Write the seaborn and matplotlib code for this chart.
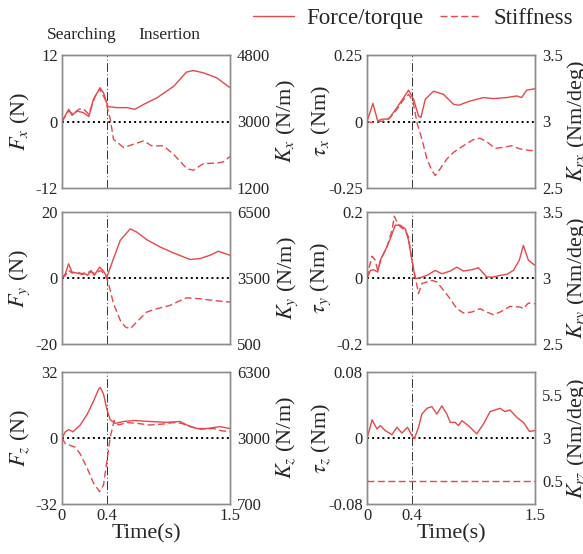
import numpy as np
import matplotlib
matplotlib.use("Agg")
import matplotlib.pyplot as plt
from matplotlib.lines import Line2D
import seaborn as sns

sns.set_style("white")
plt.rcParams["font.family"] = ["Liberation Serif", "DejaVu Serif"]
plt.rcParams["mathtext.fontset"] = "stix"

RED = "#e8474a"
GREY = "#8c8c8c"

# ---- data ----
t_fx = [0, 0.06, 0.09, 0.13, 0.19, 0.24, 0.28, 0.34, 0.37, 0.41, 0.49, 0.58, 0.65, 0.73, 0.85, 1.0, 1.11, 1.17, 1.26, 1.38, 1.5]
fx = [0, 2.2, 1.1, 1.9, 1.6, 0.9, 4.0, 6.1, 5.2, 2.7, 2.5, 2.5, 2.2, 3.1, 4.3, 6.4, 8.9, 9.2, 8.8, 7.9, 6.1]
t_kx = [0, 0.059, 0.104, 0.149, 0.193, 0.238, 0.297, 0.336, 0.386, 0.431, 0.46, 0.55, 0.639, 0.728, 0.802, 0.906, 0.995, 1.114, 1.173, 1.262, 1.381, 1.44, 1.5]
kx = [3000, 3285, 3195, 3330, 3345, 3195, 3690, 3885, 3600, 3060, 2520, 2295, 2385, 2475, 2340, 2340, 2115, 1725, 1680, 1860, 1875, 1905, 2055]

t_tx = [0, 0.053, 0.095, 0.134, 0.193, 0.267, 0.327, 0.371, 0.416, 0.46, 0.481, 0.52, 0.594, 0.683, 0.772, 0.817, 0.921, 1.04, 1.129, 1.248, 1.337, 1.381, 1.426, 1.5]
tx = [0, 0.068, 0.002, 0.009, 0.009, 0.052, 0.09, 0.118, 0.083, 0.021, 0.015, 0.083, 0.114, 0.102, 0.065, 0.061, 0.077, 0.09, 0.086, 0.09, 0.096, 0.09, 0.118, 0.123]
t_krx = [0, 0.045, 0.089, 0.149, 0.208, 0.267, 0.327, 0.371, 0.41, 0.446, 0.49, 0.535, 0.579, 0.609, 0.653, 0.713, 0.772, 0.861, 0.95, 1.01, 1.069, 1.144, 1.218, 1.292, 1.366, 1.455, 1.5]
krx = [3.0, 2.992, 2.998, 3.004, 3.03, 3.092, 3.166, 3.204, 3.154, 2.992, 2.868, 2.72, 2.632, 2.594, 2.644, 2.718, 2.768, 2.818, 2.864, 2.874, 2.848, 2.798, 2.806, 2.818, 2.794, 2.782, 2.782]

t_fy = [0, 0.03, 0.059, 0.089, 0.134, 0.178, 0.208, 0.229, 0.258, 0.288, 0.336, 0.371, 0.401, 0.46, 0.52, 0.609, 0.668, 0.757, 0.876, 0.995, 1.144, 1.233, 1.322, 1.396, 1.5]
fy = [0, 1.3, 4.3, 1.8, 1.5, 1.1, 1.3, 0.8, 2.3, 0.8, 3.3, 2.1, 0.3, 5.9, 11.4, 14.9, 13.9, 11.6, 9.4, 7.6, 5.6, 5.9, 6.9, 8.1, 6.9]
t_ky = [0, 0.03, 0.059, 0.089, 0.134, 0.178, 0.223, 0.258, 0.297, 0.342, 0.386, 0.416, 0.46, 0.52, 0.564, 0.609, 0.668, 0.757, 0.847, 0.965, 1.025, 1.114, 1.233, 1.351, 1.5]
ky = [3500, 3620, 3845, 3725, 3770, 3695, 3770, 3770, 3695, 3845, 3665, 3245, 2330, 1580, 1280, 1190, 1505, 1955, 2105, 2255, 2405, 2600, 2555, 2480, 2405]

t_ty = [0, 0.03, 0.059, 0.095, 0.119, 0.163, 0.208, 0.252, 0.297, 0.342, 0.371, 0.401, 0.431, 0.475, 0.535, 0.609, 0.668, 0.743, 0.802, 0.861, 0.936, 0.995, 1.069, 1.129, 1.188, 1.248, 1.307, 1.36, 1.396, 1.441, 1.5]
ty = [0, 0.023, 0.025, 0.018, 0.054, 0.084, 0.119, 0.16, 0.16, 0.149, 0.114, 0.054, -0.002, 0.001, 0.008, 0.023, 0.013, 0.021, 0.033, 0.021, 0.025, 0.031, 0.003, 0.003, 0.008, 0.011, 0.023, 0.054, 0.099, 0.054, 0.038]
t_kry = [0, 0.024, 0.045, 0.074, 0.095, 0.134, 0.178, 0.223, 0.244, 0.267, 0.297, 0.342, 0.371, 0.401, 0.431, 0.46, 0.49, 0.535, 0.579, 0.624, 0.683, 0.743, 0.802, 0.861, 0.936, 1.01, 1.069, 1.129, 1.188, 1.277, 1.366, 1.396, 1.441, 1.5]
kry = [3.0, 3.095, 3.165, 3.135, 3.058, 3.16, 3.235, 3.36, 3.468, 3.425, 3.388, 3.36, 3.31, 3.135, 3.008, 2.882, 2.958, 2.97, 2.982, 2.97, 2.908, 2.842, 2.768, 2.735, 2.742, 2.768, 2.742, 2.722, 2.742, 2.785, 2.78, 2.768, 2.81, 2.805]

t_fz = [0, 0.03, 0.059, 0.098, 0.163, 0.223, 0.282, 0.327, 0.342, 0.371, 0.401, 0.431, 0.475, 0.55, 0.639, 0.787, 0.936, 1.054, 1.114, 1.203, 1.292, 1.411, 1.5]
fz = [0, 3.0, 4.1, 3.0, 6.3, 11.3, 17.9, 23.7, 24.5, 21.2, 13.8, 8.8, 7.1, 8.0, 8.5, 8.0, 7.6, 8.0, 6.3, 4.6, 4.6, 5.5, 4.6]
t_kz = [0, 0.03, 0.074, 0.119, 0.163, 0.223, 0.282, 0.336, 0.371, 0.401, 0.431, 0.466, 0.505, 0.579, 0.668, 0.787, 0.906, 0.995, 1.069, 1.144, 1.233, 1.351, 1.426, 1.5]
kz = [3000, 2799, 2741, 2677, 2439, 1965, 1426, 1131, 1368, 2202, 3052, 3877, 3650, 3773, 3732, 3650, 3701, 3773, 3732, 3567, 3443, 3474, 3361, 3309]

t_tz = [0, 0.024, 0.045, 0.089, 0.119, 0.163, 0.223, 0.267, 0.312, 0.362, 0.401, 0.422, 0.46, 0.49, 0.535, 0.579, 0.624, 0.668, 0.713, 0.743, 0.787, 0.817, 0.847, 0.906, 0.98, 1.04, 1.099, 1.144, 1.188, 1.233, 1.277, 1.337, 1.396, 1.45, 1.5]
tz = [0, 0.011, 0.022, 0.011, 0.015, 0.009, 0.004, 0.013, 0.006, 0.013, 0.003, -0.001, 0.013, 0.029, 0.036, 0.038, 0.029, 0.039, 0.029, 0.019, 0.019, 0.015, 0.021, 0.015, 0.005, 0.017, 0.032, 0.034, 0.036, 0.032, 0.034, 0.025, 0.019, 0.008, 0.009]
t_krz = [0, 1.5]
krz = [0.5, 0.5]

x_ticks = [0, 0.4, 1.5]
x_ticklabels = ["0", "0.4", "1.5"]
t_switch = 0.4


# piecewise scale so that 700 / 3000 / 6300 sit at bottom / middle / top
def kz_fwd(y):
    y = np.asarray(y, dtype=float)
    return np.where(y < 3000, (y - 3000) / 2300, (y - 3000) / 3300)


def kz_inv(v):
    v = np.asarray(v, dtype=float)
    return np.where(v < 0, 3000 + v * 2300, 3000 + v * 3300)


panels = [
    # (t_f, f, t_k, k, flim, fticks, flabels, klim, kticks, ylab, klab)
    (t_fx, fx, t_kx, kx, (-12, 12), [-12, 0, 12], ["-12", "0", "12"],
     (1200, 4800), [1200, 3000, 4800], r"$F_x$ (N)", r"$K_x$ (N/m)"),
    (t_tx, tx, t_krx, krx, (-0.25, 0.25), [-0.25, 0, 0.25], ["-0.25", "0", "0.25"],
     (2.5, 3.5), [2.5, 3, 3.5], r"$\tau_x$ (Nm)", r"$K_{rx}$ (Nm/deg)"),
    (t_fy, fy, t_ky, ky, (-20, 20), [-20, 0, 20], ["-20", "0", "20"],
     (500, 6500), [500, 3500, 6500], r"$F_y$ (N)", r"$K_y$ (N/m)"),
    (t_ty, ty, t_kry, kry, (-0.2, 0.2), [-0.2, 0, 0.2], ["-0.2", "0", "0.2"],
     (2.5, 3.5), [2.5, 3, 3.5], r"$\tau_y$ (Nm)", r"$K_{ry}$ (Nm/deg)"),
    (t_fz, fz, t_kz, kz, (-32, 32), [-32, 0, 32], ["-32", "0", "32"],
     (700, 6300), [700, 3000, 6300], r"$F_z$ (N)", r"$K_z$ (N/m)"),
    (t_tz, tz, t_krz, krz, (-0.08, 0.08), [-0.08, 0, 0.08], ["-0.08", "0", "0.08"],
     (-0.81, 6.81), [0.5, 3, 5.5], r"$\tau_z$ (Nm)", r"$K_{rz}$ (Nm/deg)"),
]

fig = plt.figure(figsize=(5.83, 5.54), dpi=100)
W, H = 583, 554
col_x = [62, 367]
row_y = [(55, 188), (212, 344), (372, 504)]
aw = 168

for i, p in enumerate(panels):
    (t_f, f, t_k, k, flim, fticks, flabels, klim, kticks, ylab, klab) = p
    r, c = divmod(i, 2)
    top, bot = row_y[r]
    ax = fig.add_axes([col_x[c] / W, 1 - bot / H, aw / W, (bot - top) / H])
    ax2 = ax.twinx()

    ax.axhline(0, color="black", linestyle=":", linewidth=1.4, zorder=1)
    ax.axvline(t_switch, color="#333333", linestyle=(0, (9, 2.5, 1, 2.5)), linewidth=0.7, zorder=1)
    sns.lineplot(x=t_f, y=f, ax=ax, color=RED, linewidth=1.0, zorder=3)
    sns.lineplot(x=t_k, y=k, ax=ax2, color=RED, linewidth=1.0, linestyle=(0, (5, 2.5)), zorder=3)

    ax.set_xlim(0, 1.5)
    ax.set_ylim(*flim)
    ax.set_yticks(fticks)
    ax.set_yticklabels(flabels)
    if i == 4:
        ax2.set_yscale("function", functions=(kz_fwd, kz_inv))
    ax2.set_ylim(*klim)
    ax2.set_yticks(kticks)
    ax2.set_yticklabels([f"{v:g}" for v in kticks])
    ax2.yaxis.set_minor_locator(matplotlib.ticker.NullLocator())

    ax.set_xticks(x_ticks)
    if r == 2:
        ax.set_xticklabels(x_ticklabels)
        ax.set_xlabel("Time(s)", fontsize=16, labelpad=0)
    else:
        ax.set_xticklabels([])
        ax.set_xlabel("")

    ax.tick_params(axis="both", length=0, labelsize=12, pad=3)
    ax2.tick_params(axis="y", length=0, labelsize=12, pad=5)

    ax.set_ylabel(ylab, fontsize=16)
    ax2.set_ylabel(klab, fontsize=16)
    if c == 0:
        ax.yaxis.set_label_coords(-0.18, 0.5)
        ax2.yaxis.set_label_coords(1.268, 0.5)
    else:
        ax.yaxis.set_label_coords(-0.205, 0.5)
        ax2.yaxis.set_label_coords(1.18, 0.5)

    for a in (ax, ax2):
        for s in a.spines.values():
            s.set_color(GREY)
            s.set_linewidth(1.0)

fig.text(82 / W, 1 - 35 / H, "Searching", fontsize=12.5, ha="center", va="center")
fig.text(169 / W, 1 - 35 / H, "Insertion", fontsize=12.5, ha="center", va="center")

handles = [
    Line2D([], [], color=RED, linewidth=1.0),
    Line2D([], [], color=RED, linewidth=1.0, linestyle=(0, (5, 2.5))),
]
fig.legend(handles, ["Force/torque", "Stiffness"], loc="center",
           bbox_to_anchor=(413 / W, 1 - 18 / H), ncol=2, frameon=False,
           fontsize=16.5, handlelength=1.8, handletextpad=0.52, columnspacing=0.74)

fig.savefig("out.png", dpi=100)
